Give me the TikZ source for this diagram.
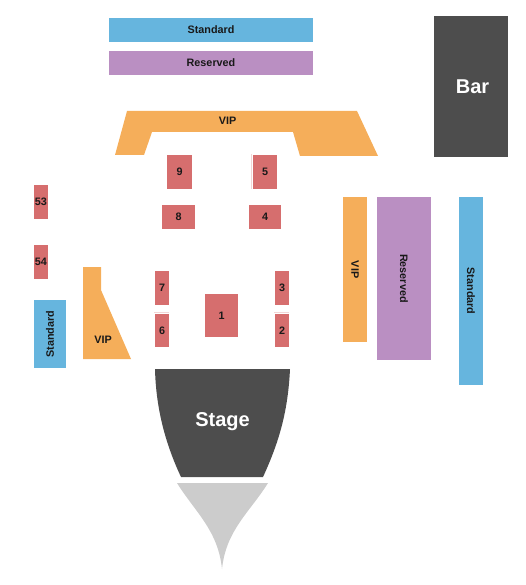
\documentclass[tikz,border=0pt]{standalone}
\usepackage{fontspec}
\setmainfont{Liberation Sans}
\definecolor{zsky}{HTML}{66B5DE}
\definecolor{zpurple}{HTML}{BA8FC2}
\definecolor{zorange}{HTML}{F5AE5A}
\definecolor{zred}{HTML}{D66E6E}
\definecolor{zdark}{HTML}{4D4D4D}
\definecolor{zgray}{HTML}{CCCCCC}
\definecolor{zpale}{HTML}{F2D6D6}
\tikzset{
  lab/.style={font=\bfseries\fontsize{10.8}{12}\selectfont, text=black!90, inner sep=0pt},
  biglab/.style={font=\bfseries\fontsize{20}{24}\selectfont, text=white, inner sep=0pt},
  vert/.style={rotate=-90},
  vertup/.style={rotate=90},
}
% name, fill, x1, y1, x2, y2, node options, text
\newcommand{\zonebox}[8]{%
  \fill[#2] (#3,#4) rectangle (#5,#6);
  \node[lab,#7] (#1) at ({(#3+#5)/2},{(#4+#6)/2}) {#8};}
\begin{document}
\begin{tikzpicture}[x=1pt,y=-1pt]
\useasboundingbox (0,0) rectangle (525,585);
\zonebox{stdtop}{zsky}{109}{18}{313}{42}{}{Standard}
\zonebox{restop}{zpurple}{109}{51}{313}{75}{}{Reserved}
\fill[zdark] (434,16) rectangle (508,157);
\node[biglab] (bar) at (472.5,87) {Bar};
% VIP top
\fill[zorange] (127,111) -- (357,111) -- (378,156) -- (300,156) -- (293,132) -- (152,132) -- (144,155) -- (115,155) -- cycle;
\node[lab] (viptop) at (227.5,121) {VIP};
% seats
\zonebox{s9}{zred}{167}{155}{192}{189}{}{9}
\zonebox{s5}{zred}{253}{155}{277}{189}{}{5}
\zonebox{s8}{zred}{162}{205}{195}{229}{}{8}
\zonebox{s4}{zred}{249}{205}{281}{229}{}{4}
\zonebox{s53}{zred}{34}{185}{48}{219}{}{53}
\zonebox{s54}{zred}{34}{245}{48}{279}{}{54}
\zonebox{s7}{zred}{155}{271}{169}{305}{}{7}
\zonebox{s6}{zred}{155}{314}{169}{347}{}{6}
\zonebox{s3}{zred}{275}{271}{289}{305}{}{3}
\zonebox{s2}{zred}{275}{314}{289}{347}{}{2}
\zonebox{s1}{zred}{205}{294}{238}{337}{}{1}
% faint slivers
\fill[zpale] (251.3,154) rectangle (252,189);
\fill[zpale] (154,312.4) rectangle (169,313);
\fill[zpale] (274,312.4) rectangle (289,313);
% left
\zonebox{stdleft}{zsky}{34}{300}{66}{368}{vertup}{Standard}
\fill[zorange] (83,267) -- (101,267) -- (101,290) -- (131,359) -- (83,359) -- cycle;
\node[lab] (vipleft) at (103,340) {VIP};
% right
\zonebox{vipright}{zorange}{343}{197}{367}{342}{vert}{VIP}
\zonebox{resright}{zpurple}{377}{197}{431}{360}{vert}{Reserved}
\zonebox{stdright}{zsky}{459}{197}{483}{385}{vert}{Standard}
% stage
\fill[zdark] (155,369) -- (290,369) .. controls (288,410) and (280,440) .. (263,477) -- (181,477) .. controls (166,445) and (156,410) .. (155,369) -- cycle;
\node[biglab] (stage) at (222.5,422) {Stage};
% gray
\fill[zgray] (177,483) -- (268,483) .. controls (250,512) and (226,530) .. (222,569) .. controls (218,530) and (195,512) .. (177,483) -- cycle;
\end{tikzpicture}
\end{document}
